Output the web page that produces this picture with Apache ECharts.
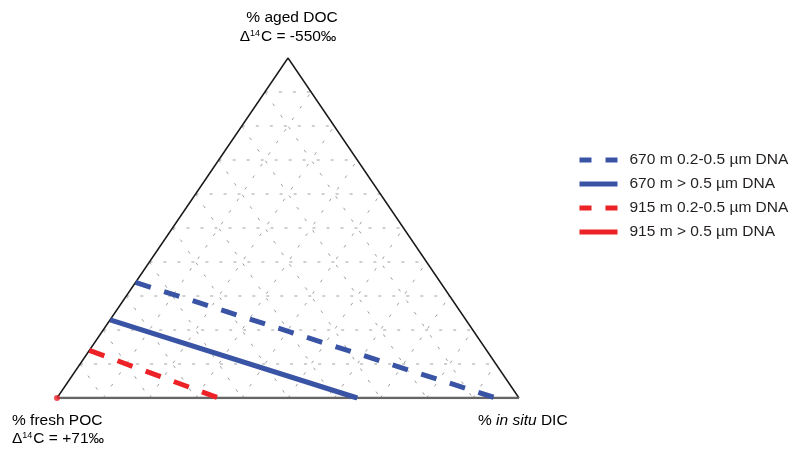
<!DOCTYPE html>
<html>
<head>
<meta charset="utf-8">
<script src="https://cdn.jsdelivr.net/npm/echarts@6/dist/echarts.min.js"></script>
<style>html,body{margin:0;padding:0;background:#fff}#c{width:793px;height:449px}</style>
</head>
<body>
<div id="c"></div>
<script>
// Ternary components: [fresh POC %, aged DOC %, in situ DIC %]
const gridTicks = [10, 20, 30, 40, 50, 60, 70, 80, 90];
const seriesNames = ['670 m 0.2-0.5 µm DNA', '670 m > 0.5 µm DNA', '915 m 0.2-0.5 µm DNA', '915 m > 0.5 µm DNA'];
const blueDashed = [[66, 34, 0], [5, 0, 95]];
const blueSolid = [[77, 23, 0], [35, 0, 65]];
const redDashed = [[86, 14, 0], [65, 0, 35]];
const redSolid = [[100, 0, 0]];
const vertices = [[100, 0, 0], [0, 100, 0], [0, 0, 100]];

const BLUE = '#3a54a5', RED = '#ec2227';
const FONT = "'Liberation Sans', Arial, Helvetica, sans-serif";
const TXT = '#231f20';

function tern(p) { return [p[2] + p[1] / 2, p[1]]; }

const series = [];
gridTicks.forEach(t => {
  const segs = [
    [[100 - t, t, 0], [0, t, 100 - t]],
    [[100 - t, 0, t], [0, 100 - t, t]],
    [[t, 100 - t, 0], [t, 0, 100 - t]]
  ];
  segs.forEach(s => series.push({
    type: 'line', silent: true, symbol: 'none', z: 1,
    data: s.map(tern),
    lineStyle: { color: '#a0a0a0', width: 1, type: [3, 11] }
  }));
});
// triangle outline
series.push({ type: 'line', silent: true, symbol: 'none', z: 2,
  data: [vertices[0], vertices[1], vertices[2]].map(tern),
  lineStyle: { color: '#1a1a1a', width: 1.5 } });
series.push({ type: 'line', silent: true, symbol: 'none', z: 2,
  data: [vertices[0], vertices[2]].map(tern),
  lineStyle: { color: '#666666', width: 2.5 } });

const dataSets = [
  { name: seriesNames[0], d: blueDashed, color: BLUE, dash: [16, 14] },
  { name: seriesNames[1], d: blueSolid, color: BLUE, dash: 'solid' },
  { name: seriesNames[2], d: redDashed, color: RED, dash: [16, 14] },
  { name: seriesNames[3], d: redSolid, color: RED, dash: 'solid' }
];
dataSets.forEach(s => series.push({
  type: 'line', name: s.name, symbol: 'none', z: 5,
  data: s.d.map(tern),
  itemStyle: { color: s.color },
  lineStyle: { color: s.color, width: 5, type: s.dash, cap: 'butt' }
}));
// point for single-point series
series.push({ type: 'scatter', name: 'pt', z: 6, symbolSize: 6,
  data: redSolid.map(tern), itemStyle: { color: RED } });

const rich = {
  n: { fontSize: 15.5, fontFamily: FONT, color: TXT, lineHeight: 19 },
  i: { fontSize: 15.5, fontFamily: FONT, color: TXT, fontStyle: 'italic', lineHeight: 19 },
  s: { fontSize: 9, fontFamily: FONT, color: TXT, lineHeight: 19, padding: [0, 1, 7, 0] }
};

const option = {
  animation: false,
  backgroundColor: '#ffffff',
  grid: { left: 57, top: 58, width: 462, height: 340 },
  xAxis: { type: 'value', min: 0, max: 100, show: false },
  yAxis: { type: 'value', min: 0, max: 100, show: false },
  legend: {
    orient: 'vertical', left: 577, top: 152, padding: 0,
    itemWidth: 38, itemHeight: 5, itemGap: 8,
    itemStyle: { opacity: 0 },
    textStyle: { fontSize: 15.5, fontFamily: FONT, color: TXT, lineHeight: 15, padding: [0, 0, 0, 7] },
    data: [
      { name: seriesNames[0], lineStyle: { width: 5, type: [12, 14], cap: 'butt' } },
      { name: seriesNames[1], lineStyle: { width: 5, cap: 'butt' } },
      { name: seriesNames[2], lineStyle: { width: 5, type: [12, 14], cap: 'butt' } },
      { name: seriesNames[3], lineStyle: { width: 5, cap: 'butt' } }
    ]
  },
  graphic: [
    { type: 'text', x: 292, y: 18, style: {
      text: '{n|% aged DOC}', rich: rich, align: 'center', verticalAlign: 'middle' } },
    { type: 'text', x: 288, y: 37, style: {
      text: '{n|Δ}{s|14}{n|C = -550‰}', rich: rich, align: 'center', verticalAlign: 'middle' } },
    { type: 'text', x: 12, y: 421, style: {
      text: '{n|% fresh POC}', rich: rich, align: 'left', verticalAlign: 'middle' } },
    { type: 'text', x: 12, y: 439, style: {
      text: '{n|Δ}{s|14}{n|C = +71‰}', rich: rich, align: 'left', verticalAlign: 'middle' } },
    { type: 'text', x: 478, y: 421, style: {
      text: '{n|% }{i|in situ}{n| DIC}', rich: rich, align: 'left', verticalAlign: 'middle' } }
  ],
  series: series
};
const chart = echarts.init(document.getElementById('c'), null, { renderer: 'canvas' });
chart.setOption(option);
</script>
</body>
</html>
